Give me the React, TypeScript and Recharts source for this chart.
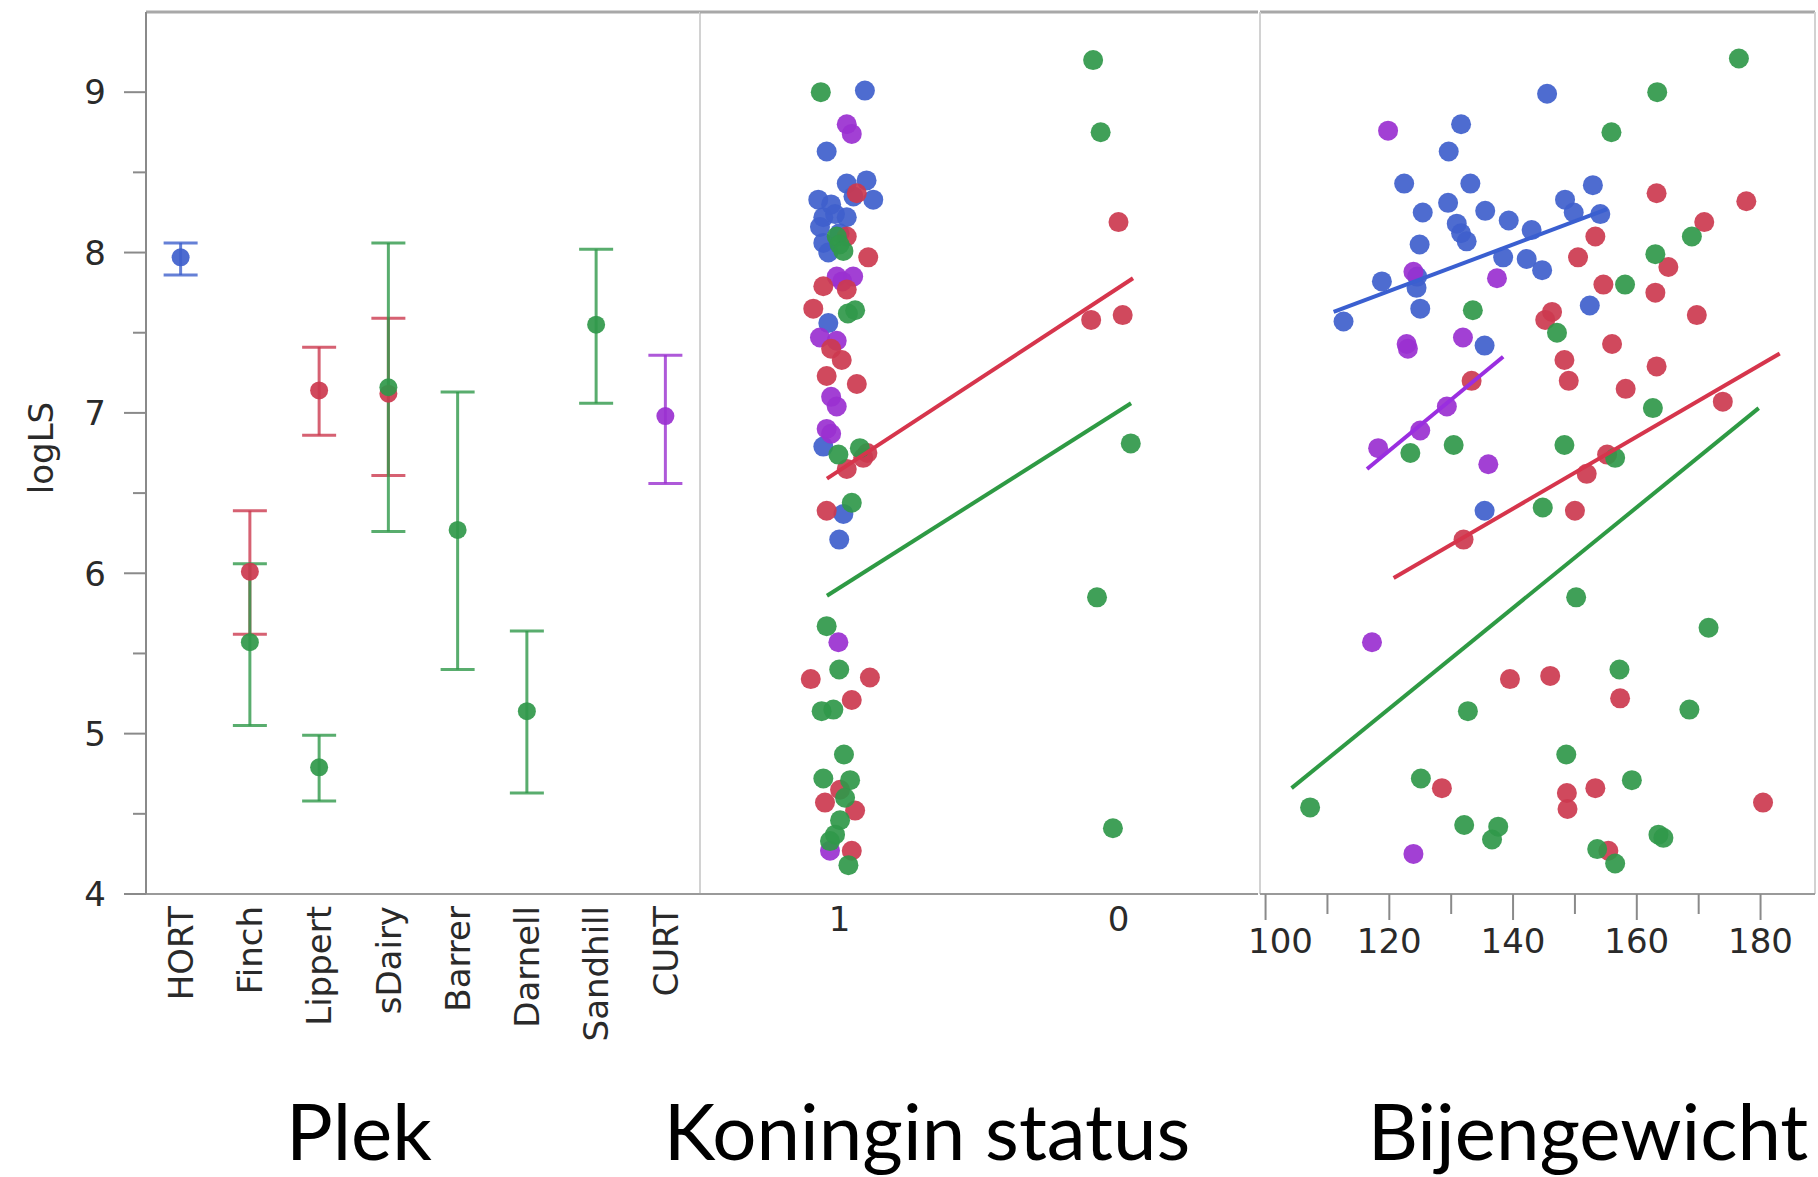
import { ScatterChart, Scatter, XAxis, YAxis, ErrorBar, ReferenceLine } from "recharts";

// ---- data ----
const PLEK = ["HORT", "Finch", "Lippert", "sDairy", "Barrer", "Darnell", "Sandhill", "CURT"];
const LOGLS_TICKS = [4, 4.5, 5, 5.5, 6, 6.5, 7, 7.5, 8, 8.5, 9];
const QUEEN_STATUS = ["1", "0"];
const QUEEN_POS = [0.5, 1.5];
const WEIGHT_TICKS = [100, 110, 120, 130, 140, 150, 160, 170, 180];

// Plek: [plek, mean, lower, upper]
const bluePlek = [["HORT", 7.97, 7.86, 8.06]];
const redPlek = [
  ["Finch", 6.01, 5.62, 6.39],
  ["Lippert", 7.14, 6.86, 7.41],
  ["sDairy", 7.12, 6.61, 7.59],
];
const greenPlek = [
  ["Finch", 5.57, 5.05, 6.06],
  ["Lippert", 4.79, 4.58, 4.99],
  ["sDairy", 7.16, 6.26, 8.06],
  ["Barrer", 6.27, 5.4, 7.13],
  ["Darnell", 5.14, 4.63, 5.64],
  ["Sandhill", 7.55, 7.06, 8.02],
];
const purplePlek = [["CURT", 6.98, 6.56, 7.36]];

// Koningin status: [jittered position (1 -> 0.5, 0 -> 1.5), logLS]
const blueQueen = [
  [0.591, 9.01], [0.454, 8.63], [0.526, 8.43], [0.597, 8.45], [0.621, 8.33], [0.424, 8.33],
  [0.442, 8.22], [0.484, 8.24], [0.43, 8.16], [0.526, 8.22], [0.442, 8.06], [0.47, 8.3],
  [0.55, 8.35], [0.46, 8.0], [0.5, 8.12], [0.46, 7.56], [0.442, 6.79], [0.514, 6.37], [0.499, 6.21],
];
const redQueen = [
  [0.562, 8.37], [0.526, 8.1], [0.603, 7.97], [0.442, 7.79], [0.526, 7.77], [0.406, 7.65],
  [0.47, 7.4], [0.508, 7.33], [0.454, 7.23], [0.562, 7.18], [0.6, 6.75], [0.585, 6.72],
  [0.526, 6.65], [0.454, 6.39], [0.397, 5.34], [0.609, 5.35], [0.544, 5.21], [0.502, 4.65],
  [0.448, 4.57], [0.556, 4.52], [0.544, 4.27],
  [1.5, 8.19], [1.402, 7.58], [1.515, 7.61],
];
const greenQueen = [
  [0.433, 9.0], [0.49, 8.1], [0.5, 8.05], [0.514, 8.01], [0.556, 7.64], [0.53, 7.62],
  [0.496, 6.74], [0.573, 6.78], [0.544, 6.44], [0.454, 5.67], [0.499, 5.4], [0.436, 5.14],
  [0.478, 5.15], [0.516, 4.87], [0.442, 4.72], [0.538, 4.71], [0.52, 4.6], [0.502, 4.46],
  [0.484, 4.37], [0.466, 4.33], [0.532, 4.18],
  [1.409, 9.2], [1.436, 8.75], [1.544, 6.81], [1.423, 5.85], [1.48, 4.41],
];
const purpleQueen = [
  [0.526, 8.8], [0.544, 8.74], [0.49, 7.85], [0.549, 7.85], [0.51, 7.82], [0.43, 7.47],
  [0.49, 7.45], [0.47, 7.1], [0.49, 7.04], [0.454, 6.9], [0.47, 6.87], [0.496, 5.57], [0.466, 4.27],
];
const redQueenFit = [[0.455, 6.59], [1.552, 7.84]];
const greenQueenFit = [[0.455, 5.86], [1.545, 7.06]];

// Bijengewicht: [weight, logLS]
const blueWeight = [
  [131.6, 8.8], [129.6, 8.63], [122.4, 8.43], [133.1, 8.43], [129.5, 8.31], [125.4, 8.25],
  [135.5, 8.26], [139.3, 8.2], [143.0, 8.14], [130.9, 8.18], [131.6, 8.12], [132.5, 8.07],
  [124.9, 8.05], [138.4, 7.97], [142.2, 7.96], [144.7, 7.89], [118.8, 7.82], [124.4, 7.78],
  [124.5, 7.85], [125.0, 7.65], [112.6, 7.57], [135.4, 7.42], [145.5, 8.99], [152.9, 8.42],
  [148.4, 8.33], [149.8, 8.25], [154.1, 8.24], [152.4, 7.67], [135.4, 6.39],
];
const redWeight = [
  [133.3, 7.2], [163.2, 8.37], [177.7, 8.32], [170.9, 8.19], [153.3, 8.1], [150.5, 7.97],
  [165.1, 7.91], [154.6, 7.8], [163.0, 7.75], [169.7, 7.61], [146.3, 7.63], [145.2, 7.58],
  [156.0, 7.43], [148.3, 7.33], [163.2, 7.29], [149.0, 7.2], [158.2, 7.15], [173.9, 7.07],
  [155.2, 6.74], [151.9, 6.62], [150.0, 6.39], [132.0, 6.21], [139.5, 5.34], [146.0, 5.36],
  [157.3, 5.22], [148.7, 4.63], [148.8, 4.53], [153.3, 4.66], [128.5, 4.66], [180.4, 4.57],
  [155.4, 4.27],
];
const greenWeight = [
  [176.5, 9.21], [163.3, 9.0], [155.9, 8.75], [168.9, 8.1], [163.0, 7.99], [158.1, 7.8],
  [147.1, 7.5], [133.5, 7.64], [123.4, 6.75], [130.4, 6.8], [162.6, 7.03], [148.3, 6.8],
  [156.5, 6.72], [144.8, 6.41], [150.2, 5.85], [171.6, 5.66], [157.2, 5.4], [132.7, 5.14],
  [168.5, 5.15], [148.6, 4.87], [159.2, 4.71], [125.1, 4.72], [107.2, 4.54], [132.1, 4.43],
  [137.6, 4.42], [136.6, 4.34], [163.5, 4.37], [164.3, 4.35], [153.6, 4.28], [156.5, 4.19],
];
const purpleWeight = [
  [119.8, 8.76], [137.4, 7.84], [123.9, 7.88], [122.8, 7.43], [123.0, 7.4], [131.9, 7.47],
  [129.3, 7.04], [125.0, 6.89], [118.2, 6.78], [136.0, 6.68], [117.2, 5.57], [123.9, 4.25],
];
const blueWeightFit = [[111.0, 7.63], [155.2, 8.27]];
const purpleWeightFit = [[116.4, 6.65], [138.4, 7.35]];
const redWeightFit = [[120.7, 5.97], [183.1, 7.37]];
const greenWeightFit = [[104.2, 4.66], [179.7, 7.03]];

const COLORS = { blue: "#3f60cc", red: "#cc3a4f", green: "#30984a", purple: "#9a30d0" };
const TICK_FONT = "'DejaVu Sans', sans-serif";
const TITLE_FONT = "Lato, 'Open Sans', sans-serif";
const H = 1177;
const X_AXIS_H = 283;

const toPts = (rows: number[][]) => rows.map(([x, y]) => ({ x, y }));
const plekRows = (rows: any[]) =>
  rows.map(([name, mean, lo, hi]) => ({
    x: PLEK.indexOf(name) + 0.5,
    y: mean,
    err: [mean - lo, hi - mean],
  }));

const dot = (color: string, r: number) => (p: any) =>
  <circle cx={p.cx} cy={p.cy} r={r} fill={color} fillOpacity={0.92} />;
const noDot = () => <g />;

function LogTick(props: any) {
  const { y, payload } = props;
  const major = Number.isInteger(payload.value);
  return (
    <g>
      <line x1={major ? 124 : 133} x2={146} y1={y} y2={y} stroke="#8a8a8a" strokeWidth={2} />
      {major && (
        <text x={106} y={y} dy="0.36em" textAnchor="end" fontSize={34} fontFamily={TICK_FONT} fill="#2a2a2a">
          {payload.value}
        </text>
      )}
    </g>
  );
}

function PlekTick(props: any) {
  const { x, payload } = props;
  const name = PLEK[Math.floor(payload.value)];
  return (
    <text
      transform={`translate(${x},906) rotate(-90)`}
      dy="0.36em"
      textAnchor="end"
      fontSize={34}
      fontFamily={TICK_FONT}
      fill="#2a2a2a"
    >
      {name}
    </text>
  );
}

function QueenTick(props: any) {
  const { x, index } = props;
  return (
    <text x={x} y={906} dy="0.73em" textAnchor="middle" fontSize={34} fontFamily={TICK_FONT} fill="#2a2a2a">
      {QUEEN_STATUS[index]}
    </text>
  );
}

function WeightTick(props: any) {
  const { x, payload } = props;
  const labelled = payload.value % 20 === 0;
  const shift = payload.value === 100 ? 15 : 0;
  return (
    <g>
      <line x1={x} x2={x} y1={894} y2={labelled ? 920 : 914} stroke="#8a8a8a" strokeWidth={2} />
      {labelled && (
        <text x={x + shift} y={928} dy="0.73em" textAnchor="middle" fontSize={34} fontFamily={TICK_FONT} fill="#2a2a2a">
          {payload.value}
        </text>
      )}
    </g>
  );
}

const title = (text: string, x: number) => () =>
  (
    <text x={x} y={1160} textAnchor="middle" fontSize={78} fontFamily={TITLE_FONT} fill="#000">
      {text}
    </text>
  );

const plekSeries = [
  { data: plekRows(bluePlek), color: COLORS.blue },
  { data: plekRows(redPlek), color: COLORS.red },
  { data: plekRows(greenPlek), color: COLORS.green },
  { data: plekRows(purplePlek), color: COLORS.purple },
];

const queenSeries = [
  { data: toPts(blueQueen), color: COLORS.blue },
  { data: toPts(purpleQueen), color: COLORS.purple },
  { data: toPts(redQueen), color: COLORS.red },
  { data: toPts(greenQueen), color: COLORS.green },
];
const queenFits = [
  { data: toPts(redQueenFit), color: "#d6354c" },
  { data: toPts(greenQueenFit), color: "#2e9a44" },
];

const weightSeries = [
  { data: toPts(blueWeight), color: COLORS.blue },
  { data: toPts(purpleWeight), color: COLORS.purple },
  { data: toPts(redWeight), color: COLORS.red },
  { data: toPts(greenWeight), color: COLORS.green },
];
const weightFits = [
  { data: toPts(blueWeightFit), color: "#3a5fd0" },
  { data: toPts(purpleWeightFit), color: "#9a2ee0" },
  { data: toPts(redWeightFit), color: "#d6354c" },
  { data: toPts(greenWeightFit), color: "#2e9a44" },
];

const axisLine = { stroke: "#9a9a9a", strokeWidth: 2 };

export default function App() {
  return (
    <div style={{ position: "absolute", left: 0, top: 0, width: 1818, height: H, background: "#fff" }}>
      {/* Plek */}
      <div style={{ position: "absolute", left: 0, top: 0 }}>
        <ScatterChart width={702} height={H} margin={{ top: 12, right: 2, bottom: 0, left: 0 }}>
          <XAxis
            type="number"
            dataKey="x"
            domain={[0, 8]}
            ticks={PLEK.map((_, i) => i + 0.5)}
            interval={0}
            tick={PlekTick}
            tickLine={false}
            axisLine={axisLine}
            height={X_AXIS_H}
            allowDataOverflow
            label={{ content: title("Plek", 359) }}
          />
          <YAxis
            type="number"
            dataKey="y"
            domain={[4, 9.5]}
            ticks={LOGLS_TICKS}
            interval={0}
            width={146}
            tick={LogTick}
            tickLine={false}
            tickSize={0}
            tickMargin={0}
            axisLine={{ stroke: "#8a8a8a", strokeWidth: 2 }}
            allowDataOverflow
            label={{
              content: () => (
                <text
                  x={41}
                  y={448}
                  transform="rotate(-90 41 448)"
                  textAnchor="middle"
                  dy="0.36em"
                  fontSize={34}
                  fontFamily={TICK_FONT}
                  fill="#2a2a2a"
                >
                  logLS
                </text>
              ),
            }}
          />
          <ReferenceLine y={9.5} stroke="#a8a8a8" strokeWidth={3} />
          <ReferenceLine x={8} stroke="#d2d2d2" strokeWidth={2} />
          {plekSeries.map((s, i) => (
            <Scatter key={i} data={s.data} shape={dot(s.color, 9)} isAnimationActive={false}>
              <ErrorBar dataKey="err" direction="y" width={17} stroke={s.color} strokeOpacity={0.8} strokeWidth={3} />
            </Scatter>
          ))}
        </ScatterChart>
      </div>

      {/* Koningin status */}
      <div style={{ position: "absolute", left: 600, top: 0 }}>
        <ScatterChart width={660} height={H} margin={{ top: 12, right: 2, bottom: 0, left: 100 }}>
          <XAxis
            type="number"
            dataKey="x"
            domain={[0, 2]}
            ticks={QUEEN_POS}
            interval={0}
            tick={QueenTick}
            tickLine={false}
            axisLine={axisLine}
            height={X_AXIS_H}
            allowDataOverflow
            label={{ content: title("Koningin status", 327) }}
          />
          <YAxis type="number" dataKey="y" domain={[4, 9.5]} hide allowDataOverflow />
          <ReferenceLine y={9.5} stroke="#a8a8a8" strokeWidth={3} />
          {queenSeries.map((s, i) => (
            <Scatter key={i} data={s.data} shape={dot(s.color, 10)} isAnimationActive={false} />
          ))}
          {queenFits.map((s, i) => (
            <Scatter
              key={"f" + i}
              data={s.data}
              shape={noDot}
              line={{ stroke: s.color, strokeWidth: 4 }}
              isAnimationActive={false}
            />
          ))}
        </ScatterChart>
      </div>

      {/* Bijengewicht */}
      <div style={{ position: "absolute", left: 1200, top: 0 }}>
        <ScatterChart width={618} height={H} margin={{ top: 12, right: 3, bottom: 0, left: 60 }}>
          <XAxis
            type="number"
            dataKey="x"
            domain={[99.1, 188.8]}
            ticks={WEIGHT_TICKS}
            interval={0}
            tick={WeightTick}
            tickLine={false}
            tickSize={0}
            tickMargin={0}
            axisLine={axisLine}
            height={X_AXIS_H}
            allowDataOverflow
            label={{ content: title("Bijengewicht", 388) }}
          />
          <YAxis type="number" dataKey="y" domain={[4, 9.5]} hide allowDataOverflow />
          <ReferenceLine y={9.5} stroke="#a8a8a8" strokeWidth={3} />
          <ReferenceLine x={99.1} stroke="#d2d2d2" strokeWidth={2} />
          <ReferenceLine x={188.8} stroke="#d2d2d2" strokeWidth={2} />
          {weightSeries.map((s, i) => (
            <Scatter key={i} data={s.data} shape={dot(s.color, 10)} isAnimationActive={false} />
          ))}
          {weightFits.map((s, i) => (
            <Scatter
              key={"f" + i}
              data={s.data}
              shape={noDot}
              line={{ stroke: s.color, strokeWidth: 4 }}
              isAnimationActive={false}
            />
          ))}
        </ScatterChart>
      </div>
    </div>
  );
}
